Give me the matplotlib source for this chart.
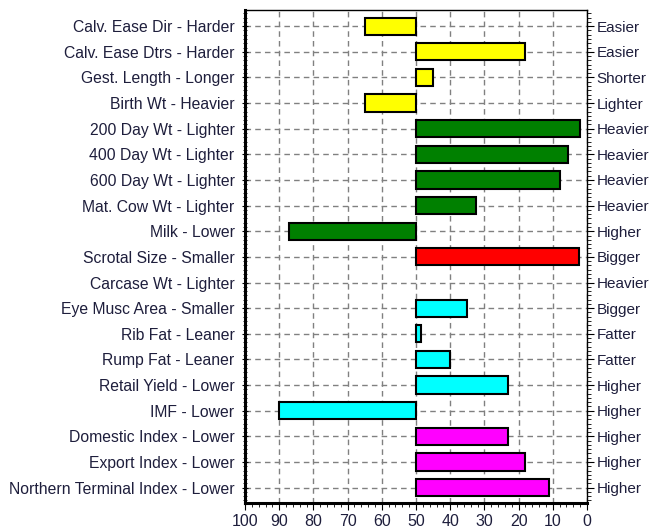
import matplotlib
matplotlib.use("Agg")
import matplotlib.pyplot as plt
from matplotlib.ticker import MultipleLocator
import numpy as np

plt.rcParams['font.family'] = ['Liberation Sans', 'DejaVu Sans']

left_labels = ["Calv. Ease Dir - Harder", "Calv. Ease Dtrs - Harder", "Gest. Length - Longer",
               "Birth Wt - Heavier", "200 Day Wt - Lighter", "400 Day Wt - Lighter",
               "600 Day Wt - Lighter", "Mat. Cow Wt - Lighter", "Milk - Lower",
               "Scrotal Size - Smaller", "Carcase Wt - Lighter", "Eye Musc Area - Smaller",
               "Rib Fat - Leaner", "Rump Fat - Leaner", "Retail Yield - Lower", "IMF - Lower",
               "Domestic Index - Lower", "Export Index - Lower", "Northern Terminal Index - Lower"]
right_labels = ["Easier", "Easier", "Shorter", "Lighter", "Heavier", "Heavier", "Heavier",
                "Heavier", "Higher", "Bigger", "Heavier", "Bigger", "Fatter", "Fatter",
                "Higher", "Higher", "Higher", "Higher", "Higher"]
values = [65, 18, 45, 65, 2, 5.5, 8, 32.5, 87, 2.3, 50, 35, 48.5, 40, 23, 90, 23, 18, 11]
groups = ["yellow"] * 4 + ["green"] * 5 + ["red"] + ["green"] + ["cyan"] * 5 + ["magenta"] * 3
group_colors = {"yellow": "#ffff00", "green": "#008000", "red": "#ff0000",
                "cyan": "#00ffff", "magenta": "#ff00ff"}
x_ticks = [100, 90, 80, 70, 60, 50, 40, 30, 20, 10, 0]
center = 50

fig = plt.figure(figsize=(6.5, 5.3), dpi=100)
ax = fig.add_axes([245/650, 1-503/530, (587-245)/650, (503-10)/530])

n = len(values)
y = np.arange(n)
widths = np.array(values) - center
colors = [group_colors[g] for g in groups]
lws = [0 if w == 0 else 1.5 for w in widths]
ax.barh(y, widths, left=center, height=0.67, color=colors, edgecolor='black',
        linewidth=lws, zorder=3)

ax.set_xlim(100, 0)
ax.set_ylim(n - 1 + 0.6, -0.63)
ax.set_xticks(x_ticks)
ax.set_xticklabels([str(t) for t in x_ticks])
ax.xaxis.set_minor_locator(MultipleLocator(2))
ax.set_yticks(y)
ax.set_yticklabels(left_labels)
ax.yaxis.set_minor_locator(MultipleLocator(1/6))

text_color = '#1e1e3c'
ax.tick_params(axis='y', which='major', length=5, direction='inout', labelsize=11.3,
               labelcolor=text_color, pad=5)
ax.tick_params(axis='y', which='minor', length=3, direction='inout')
ax.tick_params(axis='x', which='major', length=5, direction='out', labelsize=11.5,
               labelcolor=text_color, pad=3)
ax.tick_params(axis='x', which='minor', length=3, direction='out')

ax.grid(True, which='major', color='#808080', linestyle=(0, (4, 3)), linewidth=1.0, zorder=0)
ax.set_axisbelow(True)

ax.spines['left'].set_linewidth(2.2)
ax.spines['bottom'].set_linewidth(2.2)
ax.spines['top'].set_linewidth(1.0)
ax.spines['right'].set_linewidth(1.0)

ax2 = ax.twinx()
ax2.set_ylim(ax.get_ylim())
ax2.set_yticks(y)
ax2.set_yticklabels(right_labels)
ax2.yaxis.set_minor_locator(MultipleLocator(1/6))
ax2.tick_params(axis='y', which='major', length=5, direction='out', labelsize=11,
                labelcolor=text_color, pad=2)
ax2.tick_params(axis='y', which='minor', length=3, direction='out')
for s in ax2.spines.values():
    s.set_visible(False)

fig.savefig("out.png", dpi=100)
